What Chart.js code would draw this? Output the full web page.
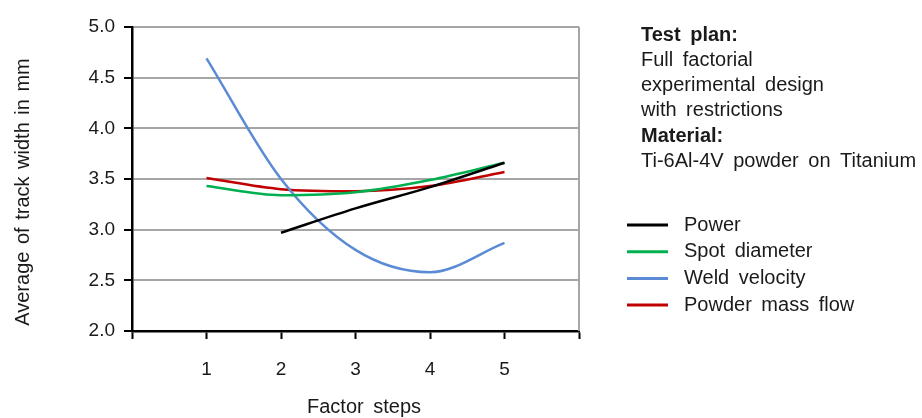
<!DOCTYPE html>
<html>
<head>
<meta charset="utf-8">
<script src="https://cdn.jsdelivr.net/npm/chart.js@4/dist/chart.umd.min.js"></script>
<style>
  html, body { margin: 0; padding: 0; background: #fff; }
  #wrap { width: 922px; height: 418px; position: relative; }
</style>
</head>
<body>
<div id="wrap"><canvas id="chart"></canvas></div>
<script>
// Werte
const steps = [1, 2, 3, 4, 5];
const power = [null, 2.97, 3.21, 3.42, 3.66];
const spotDiameter = [3.43, 3.34, 3.37, 3.49, 3.66];
const weldVelocity = [4.69, 3.50, 2.80, 2.58, 2.87];
const powderMassFlow = [3.51, 3.40, 3.38, 3.43, 3.57];

const seriesNames = ['Power', 'Spot diameter', 'Weld velocity', 'Powder mass flow'];
const seriesColors = ['#000000', '#00b050', '#5b8bd4', '#c00000'];
const yTicks = [2.0, 2.5, 3.0, 3.5, 4.0, 4.5, 5.0];

const noteLines = [
  { text: 'Test plan:', bold: true },
  { text: 'Full factorial', bold: false },
  { text: 'experimental design', bold: false },
  { text: 'with restrictions', bold: false },
  { text: 'Material:', bold: true },
  { text: 'Ti-6Al-4V powder on Titanium', bold: false }
];

const FONT = 'Arial, "Liberation Sans", sans-serif';

function toPoints(values) {
  return steps.map((s, i) => ({ x: s, y: values[i] })).filter(p => p.y !== null);
}

// Rahmen rechts, Text, Legende, Achsentitel
const extras = {
  id: 'extras',
  afterDraw(chart) {
    const ctx = chart.ctx;
    const area = chart.chartArea;
    ctx.save();

    ctx.strokeStyle = '#a6a6a6';
    ctx.lineWidth = 2;
    ctx.beginPath();
    ctx.moveTo(area.right, area.top);
    ctx.lineTo(area.right, area.bottom);
    ctx.stroke();

    ctx.fillStyle = '#1a1a1a';
    ctx.textBaseline = 'middle';
    ctx.textAlign = 'left';
    if ('wordSpacing' in ctx) ctx.wordSpacing = '4px';
    noteLines.forEach((line, i) => {
      ctx.font = (line.bold ? 'bold ' : '') + '20px ' + FONT;
      ctx.fillText(line.text, 641, 35 + i * 25.3);
    });

    // Legende
    chart.data.datasets.forEach((ds, i) => {
      const y = 225 + i * 26.7;
      ctx.strokeStyle = ds.borderColor;
      ctx.lineWidth = 3;
      ctx.beginPath();
      ctx.moveTo(627, y);
      ctx.lineTo(668, y);
      ctx.stroke();
      ctx.font = '20px ' + FONT;
      ctx.fillText(ds.label, 684, y);
    });

    // X-Achsentitel
    ctx.textAlign = 'center';
    ctx.font = '20px ' + FONT;
    ctx.fillText('Factor steps', 364, 407);

    // Y-Achsentitel
    if ('wordSpacing' in ctx) ctx.wordSpacing = '2px';
    ctx.translate(23, 192);
    ctx.rotate(-Math.PI / 2);
    ctx.fillText('Average of track width in mm', 0, 0);
    ctx.restore();
  }
};

const allSeries = [power, spotDiameter, weldVelocity, powderMassFlow];

new Chart(document.getElementById('chart'), {
  type: 'line',
  data: {
    datasets: allSeries.map((vals, i) => ({
      label: seriesNames[i],
      data: toPoints(vals),
      borderColor: seriesColors[i],
      backgroundColor: seriesColors[i],
      borderWidth: 2.5,
      pointRadius: 0,
      cubicInterpolationMode: 'monotone',
      fill: false
    }))
  },
  options: {
    responsive: true,
    maintainAspectRatio: false,
    animation: false,
    layout: { padding: { top: 27, right: 343, bottom: 0, left: 0 } },
    plugins: {
      legend: { display: false },
      tooltip: { enabled: false }
    },
    scales: {
      x: {
        type: 'linear',
        min: 0,
        max: 6,
        afterFit: s => { s.height = 87; },
        ticks: {
          stepSize: 1,
          autoSkip: false,
          maxRotation: 0,
          padding: 19,
          color: '#1a1a1a',
          font: { family: FONT, size: 19 },
          callback: v => (steps.includes(v) ? String(v) : '')
        },
        grid: {
          drawOnChartArea: false,
          tickLength: 8,
          tickColor: '#000',
          tickWidth: 2
        },
        border: { color: '#000', width: 2.5 }
      },
      y: {
        min: 2,
        max: 5,
        afterFit: s => { s.width = 132; },
        afterBuildTicks: s => { s.ticks = yTicks.map(v => ({ value: v })); },
        ticks: {
          padding: 9,
          color: '#1a1a1a',
          font: { family: FONT, size: 19 },
          callback: v => Number(v).toFixed(1)
        },
        grid: {
          color: '#a6a6a6',
          lineWidth: 2,
          tickLength: 8,
          tickColor: '#000',
          tickWidth: 2
        },
        border: { color: '#000', width: 2.5 }
      }
    }
  },
  plugins: [extras]
});
</script>
</body>
</html>
